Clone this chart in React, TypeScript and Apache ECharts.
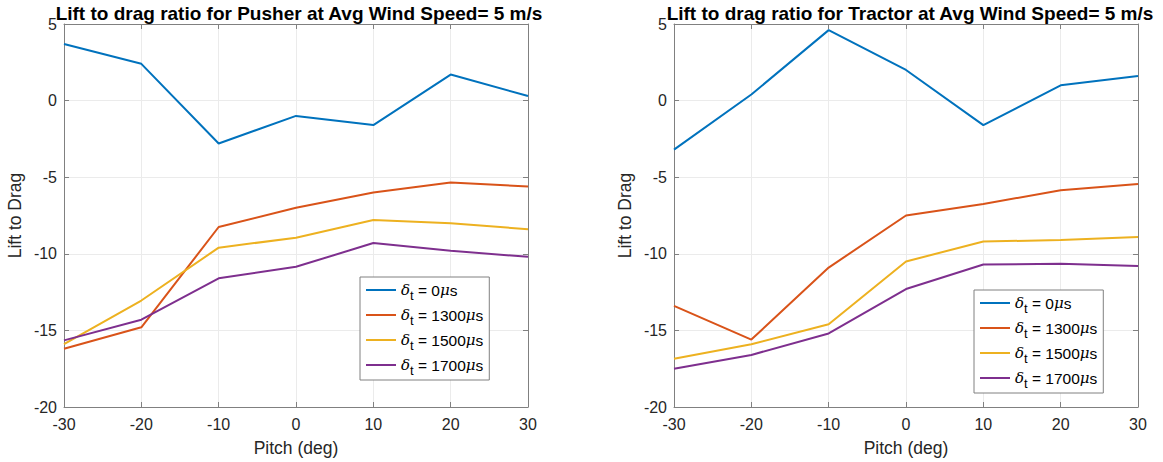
import React, { useEffect, useRef } from "react";
import * as echarts from "echarts";

const pitch = [-30, -20, -10, 0, 10, 20, 30];
const seriesNames = ["d0", "d1300", "d1500", "d1700"];
const legendLabels: Record<string, string> = {
  d0: "0",
  d1300: "1300",
  d1500: "1500",
  d1700: "1700",
};
const colors = ["#0072BD", "#D95319", "#EDB120", "#7E2F8E"];

const pusherD0 = [3.7, 2.4, -2.8, -1.0, -1.6, 1.7, 0.3];
const pusherD1300 = [-16.2, -14.8, -8.25, -7.0, -6.0, -5.35, -5.6];
const pusherD1500 = [-15.9, -13.05, -9.6, -8.95, -7.8, -8.0, -8.4];
const pusherD1700 = [-15.65, -14.3, -11.6, -10.85, -9.3, -9.8, -10.2];

const tractorD0 = [-3.2, 0.4, 4.6, 2.0, -1.6, 1.0, 1.6];
const tractorD1300 = [-13.4, -15.6, -10.9, -7.5, -6.75, -5.85, -5.45];
const tractorD1500 = [-16.85, -15.9, -14.6, -10.5, -9.2, -9.1, -8.9];
const tractorD1700 = [-17.5, -16.6, -15.2, -12.3, -10.7, -10.65, -10.8];

const titles = [
  "Lift to drag ratio for Pusher at Avg Wind Speed= 5 m/s",
  "Lift to drag ratio for Tractor at Avg Wind Speed= 5 m/s",
];
const xLabel = "Pitch (deg)";
const yLabel = "Lift to Drag";

const FONT = "Liberation Sans, Arial, Helvetica, sans-serif";
const AXIS_COLOR = "#262626";
const BOX_COLOR = "#808080";

export default function App() {
  const ref = useRef<HTMLDivElement>(null);
  useEffect(() => {
    if (!ref.current) return;
    const chart = echarts.init(ref.current, undefined, { renderer: "svg" });
    const grids = [
      { left: 64, top: 24, width: 464, height: 385 },
      { left: 674, top: 24, width: 464, height: 385 },
    ];
    const data = [
      [pusherD0, pusherD1300, pusherD1500, pusherD1700],
      [tractorD0, tractorD1300, tractorD1500, tractorD1700],
    ];
    const line = { show: true, onZero: false, lineStyle: { color: BOX_COLOR, width: 1 } };
    const tick = { show: true, inside: true, length: 5, lineStyle: { color: BOX_COLOR } };
    const xAxes: any[] = [];
    const yAxes: any[] = [];
    grids.forEach((g, i) => {
      xAxes.push({
        type: "value",
        gridIndex: i,
        min: -30,
        max: 30,
        interval: 10,
        name: xLabel,
        nameLocation: "middle",
        nameGap: 32,
        nameTextStyle: { color: AXIS_COLOR, fontSize: 17.5, fontFamily: FONT },
        axisLine: line,
        axisTick: tick,
        axisLabel: { color: AXIS_COLOR, fontSize: 16, fontFamily: FONT, margin: 9 },
        splitLine: { show: true, lineStyle: { color: "#ebebeb", width: 1 } },
      });
      xAxes.push({
        type: "value",
        gridIndex: i,
        position: "top",
        min: -30,
        max: 30,
        interval: 10,
        axisLine: line,
        axisTick: tick,
        axisLabel: { show: false },
        splitLine: { show: false },
      });
      yAxes.push({
        type: "value",
        gridIndex: i,
        min: -20,
        max: 5,
        interval: 5,
        name: yLabel,
        nameLocation: "middle",
        nameGap: 40,
        nameRotate: 90,
        nameTextStyle: { color: AXIS_COLOR, fontSize: 17.5, fontFamily: FONT },
        axisLine: line,
        axisTick: tick,
        axisLabel: { color: AXIS_COLOR, fontSize: 16, fontFamily: FONT, margin: 7 },
        splitLine: { show: true, lineStyle: { color: "#ebebeb", width: 1 } },
      });
      yAxes.push({
        type: "value",
        gridIndex: i,
        position: "right",
        min: -20,
        max: 5,
        interval: 5,
        axisLine: line,
        axisTick: tick,
        axisLabel: { show: false },
        splitLine: { show: false },
      });
    });

    const series: any[] = [];
    data.forEach((set, gi) => {
      set.forEach((vals, si) => {
        series.push({
          type: "line",
          name: seriesNames[si],
          xAxisIndex: gi * 2,
          yAxisIndex: gi * 2,
          data: pitch.map((p, k) => [p, vals[k]]),
          symbol: "none",
          lineStyle: { color: colors[si], width: 2 },
          itemStyle: { color: colors[si] },
        });
      });
    });

    const rich = {
      d: { fontSize: 15, fontStyle: "italic", fontFamily: "DejaVu Serif, serif", color: "#000" },
      s: { fontSize: 13, fontFamily: FONT, color: "#000", verticalAlign: "bottom", padding: [11, 0, 0, 0] },
      t: { fontSize: 15.5, fontFamily: FONT, color: "#000" },
      m: { fontSize: 15, fontStyle: "italic", fontFamily: "DejaVu Serif, serif", color: "#000" },
    };
    const legendFormatter = (name: string) =>
      `{d|δ}{s|t}{t| = ${legendLabels[name]}}{m|μ}{t|s}`;
    const legendBase = {
      orient: "vertical",
      data: seriesNames.map((n) => ({ name: n, icon: "rect" })),
      itemWidth: 30,
      itemHeight: 2,
      itemGap: 5,
      padding: [5, 6, 3, 6],
      borderColor: BOX_COLOR,
      borderWidth: 1,
      backgroundColor: "#fff",
      selectedMode: false,
      formatter: legendFormatter,
      textStyle: { rich, fontSize: 15, fontFamily: FONT, color: "#000" },
    };

    chart.setOption({
      animation: false,
      backgroundColor: "#fff",
      title: [
        {
          text: titles[0],
          left: 294,
          textAlign: "center",
          top: -3,
          textStyle: { fontSize: 19, fontWeight: "bold", fontFamily: FONT, color: "#000", lineHeight: 22 },
        },
        {
          text: titles[1],
          left: 905,
          textAlign: "center",
          top: -3,
          textStyle: { fontSize: 19, fontWeight: "bold", fontFamily: FONT, color: "#000", lineHeight: 22 },
        },
      ],
      legend: [
        { ...legendBase, left: 360, top: 277 },
        { ...legendBase, left: 974, top: 290 },
      ],
      grid: grids.map((g) => ({ ...g, show: false })),
      xAxis: xAxes,
      yAxis: yAxes,
      series,
    });
    return () => chart.dispose();
  }, []);
  return (
    <div
      ref={ref}
      style={{ position: "fixed", left: 0, top: 0, width: 1163, height: 462 }}
    />
  );
}
